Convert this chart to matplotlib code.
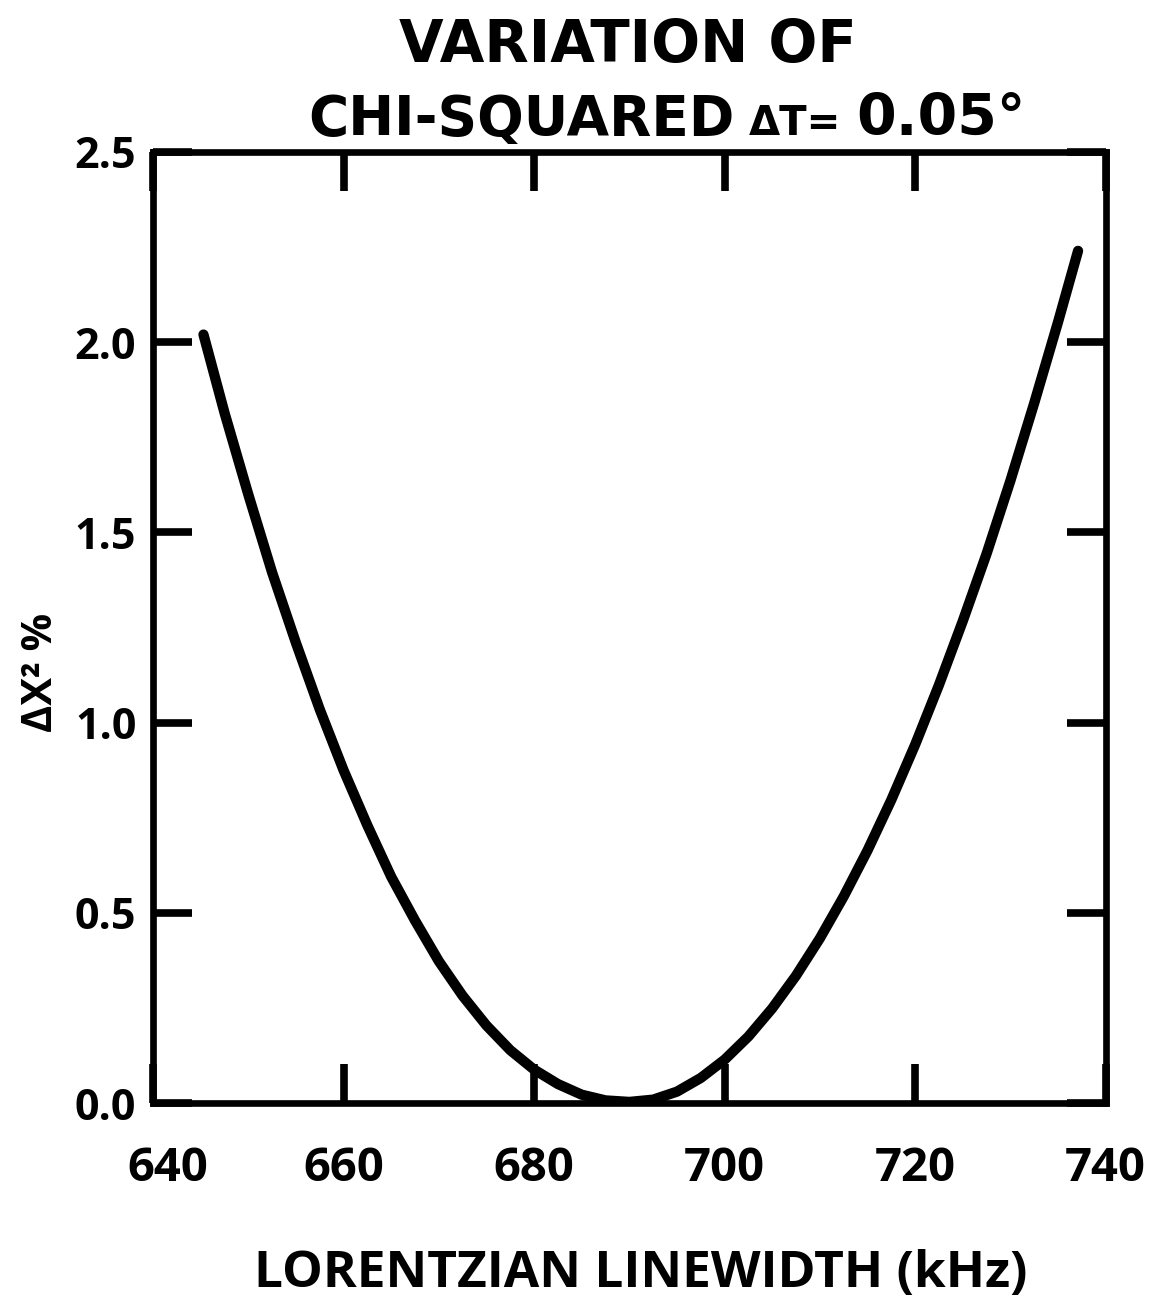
import matplotlib
matplotlib.use("Agg")
import matplotlib.pyplot as plt
import matplotlib.transforms as mtransforms

# linewidth (kHz) and change in chi-squared (%)
linewidth_khz = [645.3, 647.5, 650.0, 652.5, 655.0, 657.5, 660.0, 662.5, 665.0,
                 667.5, 670.0, 672.5, 675.0, 677.5, 680.0, 682.5, 685.0, 687.5,
                 690.0, 692.5, 695.0, 697.5, 700.0, 702.5, 705.0, 707.5, 710.0,
                 712.5, 715.0, 717.5, 720.0, 722.5, 725.0, 727.5, 730.0, 732.5,
                 735.0, 737.1]
delta_chi2 = [2.02, 1.815, 1.60, 1.395, 1.21, 1.035, 0.875, 0.73, 0.595,
              0.48, 0.373, 0.282, 0.204, 0.139, 0.088, 0.05, 0.022, 0.007,
              0.003, 0.009, 0.03, 0.066, 0.114, 0.175, 0.249, 0.335, 0.433,
              0.543, 0.664, 0.797, 0.942, 1.099, 1.267, 1.444, 1.636, 1.84,
              2.053, 2.24]

x_ticks = [640, 660, 680, 700, 720, 740]
y_ticks = [0.0, 0.5, 1.0, 1.5, 2.0, 2.5]
y_tick_labels = ["0.0", "0.5", "1.0", "1.5", "2.0", "2.5"]

plt.rcParams["font.family"] = ["Open Sans", "DejaVu Sans"]
plt.rcParams["font.weight"] = "bold"
TITLE_FONT = ["DejaVu Sans"]

fig = plt.figure(figsize=(11.59, 13.02), dpi=100)
ax = fig.add_axes([0.132, 0.1528, 0.822, 0.7305])

ax.plot(linewidth_khz, delta_chi2, color="black", lw=7.4,
        solid_capstyle="round", solid_joinstyle="round", zorder=3)

ax.set_xlim(640, 740)
ax.set_ylim(0, 2.5)
ax.set_xticks(x_ticks)
ax.set_xticklabels([str(v) for v in x_ticks])
ax.set_yticks(y_ticks)
ax.set_yticklabels(y_tick_labels)

for s in ax.spines.values():
    s.set_linewidth(4.8)
    s.set_capstyle("projecting")

ax.tick_params(axis="both", which="major", direction="in", length=28,
               width=5.5, top=True, right=True, color="black")
ax.tick_params(axis="x", labelsize=34, pad=30)
ax.tick_params(axis="y", labelsize=31, pad=12)
for lab in ax.get_xticklabels() + ax.get_yticklabels():
    lab.set_fontweight("bold")

# nudge the first x label clear of the 0.0 label
first = ax.get_xticklabels()[0]
first.set_transform(first.get_transform() +
                    mtransforms.ScaledTranslation(0.15, 0, fig.dpi_scale_trans))

# axis titles
fig.text(0.553, 0.0115, "LORENTZIAN LINEWIDTH (kHz)", ha="center",
         va="baseline", fontsize=37, fontweight="bold")
fig.text(0.0362, 0.4839, "ΔX² %", ha="center", va="center", rotation=90,
         rotation_mode="anchor", fontsize=30, fontweight="bold")

# title block
fig.text(0.542, 0.9524, "VARIATION OF", ha="center", va="baseline",
         fontsize=41.5, fontweight="bold", family=TITLE_FONT)
fig.text(0.2657, 0.8963, "CHI-SQUARED", ha="left", va="baseline",
         fontsize=39.5, fontweight="bold", family=TITLE_FONT)
fig.text(0.646, 0.8963, "ΔT=", ha="left", va="baseline",
         fontsize=29, fontweight="bold", family=TITLE_FONT)
fig.text(0.739, 0.8963, "0.05°", ha="left", va="baseline",
         fontsize=41, fontweight="bold", family=TITLE_FONT)

fig.savefig("out.png", dpi=100, facecolor="white")
